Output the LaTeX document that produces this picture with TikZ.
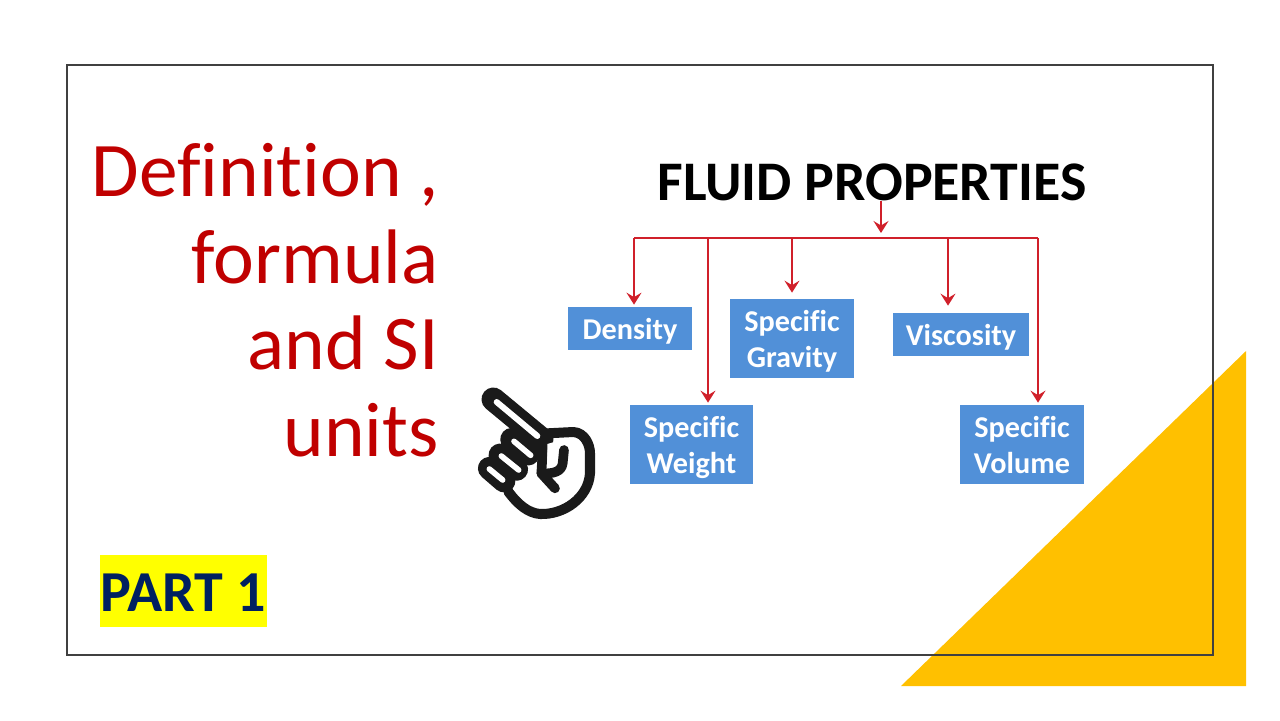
\documentclass[tikz,border=0pt]{standalone}
\usepackage{fontspec}
\setmainfont[Ligatures=NoCommon]{Carlito}
\usepackage{xcolor}
\usetikzlibrary{arrows.meta, positioning, calc}
\definecolor{headred}{HTML}{C00000}
\definecolor{navyblue}{HTML}{002060}
\definecolor{boxblue}{HTML}{5190D8}
\definecolor{linered}{HTML}{D0202A}
\definecolor{cornergold}{HTML}{FFC000}
\definecolor{framegray}{HTML}{404040}
\definecolor{inkblack}{HTML}{1A1A1A}
\definecolor{partyellow}{RGB}{255,255,0}

\begin{document}
\begin{tikzpicture}[
    x=0.02cm, y=-0.02cm,
    propbox/.style={rectangle, fill=boxblue, text=white, align=center, inner sep=0pt, font=\fontsize{17.2}{20.5}\selectfont\bfseries},
    oneline/.style={propbox, text height=17.2pt, text depth=5pt},
    twoline/.style={propbox, text depth=0pt, execute at begin node={\rule{0pt}{14.5pt}}},
    headtext/.style={text=headred, align=right, inner sep=0pt, font=\fontsize{44}{49.3}\selectfont},
    titletext/.style={text=black, inner sep=0pt, font=\fontsize{31.8}{36}\selectfont\bfseries},
    partbox/.style={fill=partyellow, inner sep=0pt, minimum width=167*0.02cm, minimum height=72*0.02cm},
    parttext/.style={text=navyblue, inner sep=0pt, font=\fontsize{33}{36}\selectfont\bfseries},
    busline/.style={color=linered, line width=1.5pt},
    arrow/.style={-{Stealth[length=2.4mm, width=3mm, inset=0.9mm]}, color=linered, line width=1.5pt},
    handink/.style={color=inkblack, line cap=round, line join=round},
    handgap/.style={color=white, line cap=round},
]
\useasboundingbox (0,0) rectangle (1280,720);
\fill[white] (0,0) rectangle (1280,720);
\fill[cornergold] (1246,351) -- (1246,686) -- (901,686) -- cycle;
\draw[framegray, line width=0.85pt] (67,65) rectangle (1213,655);

\node[headtext, anchor=north east] (head) at (439,143) {Definition ,\\ formula\\ and SI\\ units};
\node[partbox] (partbg) at (183.5,591) {};
\node[parttext] (part) at (183.5,593) {PART 1};
\node[titletext] (title) at (872,182) {FLUID PROPERTIES};

\node[oneline, minimum width=124*0.02cm, minimum height=43*0.02cm] (density) at (630,328.5) {Density};
\node[twoline, minimum width=124*0.02cm, minimum height=79*0.02cm] (gravity) at (792,338.5) {Specific\\ Gravity};
\node[oneline, minimum width=136*0.02cm, minimum height=43*0.02cm] (viscosity) at (961,334.5) {Viscosity};
\node[twoline, minimum width=123*0.02cm, minimum height=79*0.02cm] (weight) at (691.5,444.5) {Specific\\ Weight};
\node[twoline, minimum width=124*0.02cm, minimum height=79*0.02cm] (volume) at (1022,444.5) {Specific\\ Volume};

\coordinate (busleft) at (634,238);
\coordinate (busweight) at (708,238);
\coordinate (busgravity) at (792,238);
\coordinate (bustop) at (881,233);
\coordinate (busviscosity) at (948,238);
\coordinate (busright) at (1038,238);

\draw[arrow] (bustop |- title.south) -- (bustop);
\draw[busline] (busleft) -- (busright);
\draw[arrow] (busleft) -- ($(busleft |- density.north)+(0,-2)$);
\draw[arrow] (busweight) -- ($(busweight |- weight.north)+(0,-2)$);
\draw[arrow] (busgravity) -- ($(busgravity |- gravity.north)+(0,-6)$);
\draw[arrow] (busviscosity) -- ($(busviscosity |- viscosity.north)+(0,-7)$);
\draw[arrow] (busright) -- ($(busright |- volume.north)+(0,-2)$);

\begin{scope}[shift={(460,370)}, x=0.02cm/3, y=-0.02cm/3]
\draw[handink, fill=white, line width=5.7pt] (262,190) -- (340,186) .. controls (375,188) and (390,225) .. (390,250)
  -- (390,310) .. controls (385,385) and (310,435) .. (240,432) .. controls (205,429) and (175,405) .. (145,365);
\draw[handink, line width=13.5pt] (100,88) -- (245,208);
\draw[handink, line width=13pt] (155,208) -- (205,252);
\draw[handink, line width=13pt] (120,255) -- (170,298);
\draw[handink, line width=13pt] (88,295) -- (132,333);
\draw[handink, line width=5.5pt] (250,215) -- (244,310) -- (285,355);
\draw[handink, line width=5.5pt] (312,240) -- (308,280) .. controls (305,305) and (280,312) .. (244,310);
\fill[white] (262,222) -- (296,212) -- (294,235) -- (290,278) -- (262,292) -- cycle;
\draw[handgap, line width=3.4pt] (110,96) -- (232,198);
\draw[handgap, line width=3.2pt] (162,214) -- (212,256);
\draw[handgap, line width=3.2pt] (124,258) -- (176,300);
\draw[handgap, line width=3.2pt] (88,297) -- (128,330);
\end{scope}
\end{tikzpicture}
\end{document}
